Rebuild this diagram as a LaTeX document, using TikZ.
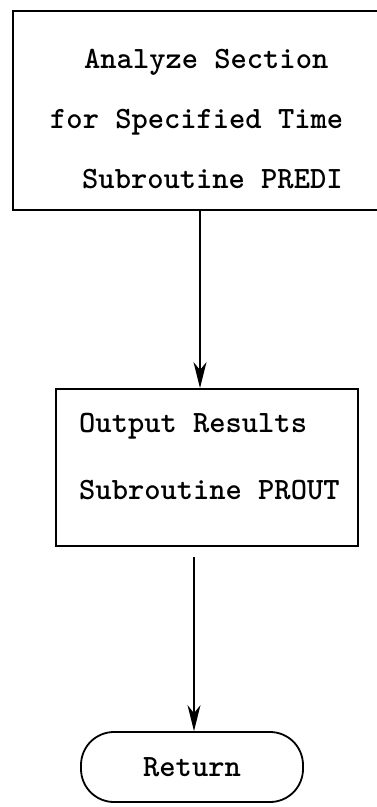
\documentclass[tikz,border=0pt]{standalone}
\usetikzlibrary{arrows.meta,calc}
\begin{document}
\begin{tikzpicture}[x=1pt,y=-1pt,
  box/.style={draw,line width=1.8pt,rectangle,inner sep=0pt},
  term/.style={draw,line width=1.8pt,rectangle,rounded corners=33pt,inner sep=0pt,
    minimum width=222pt,minimum height=70pt,font=\ttlabel},
  txt/.style={inner sep=0pt,anchor=base west,font=\ttlabel},
  flow/.style={line width=1.4pt,-{Stealth[length=26pt,width=13pt,inset=8pt]}}]
\providecommand\ttlabel{\fontsize{31}{37}\selectfont\ttfamily\bfseries}
% page area; the first box runs off its right edge
\useasboundingbox (0,0) rectangle (377,807);
\clip (0,0) rectangle (377,807);
\fill[white] (0,0) rectangle (377,807);

% analysis step
\node[box,anchor=north west,minimum width=383pt,minimum height=199pt] (predi) at (12,10) {};
\node[txt] (p1) at (84,68) {Analyze Section};
\node[txt] (p2) at (50,128) {for Specified Time};
\node[txt] (p3) at (82,188) {Subroutine PREDI};

% output step
\node[box,anchor=north west,minimum width=302pt,minimum height=157pt] (prout) at (55,388) {};
\node[txt] (q1) at (79,432) {Output Results};
\node[txt] (q2) at (79,499) {Subroutine PROUT};

% terminator
\node[term] (ret) at (192,767) {Return};

% connectors
\coordinate (c1) at (200,0);
\coordinate (c2) at (194,0);
\draw[flow] (predi.south -| c1) -- (prout.north -| c1);
\draw[flow,shorten <=10pt] (prout.south -| c2) -- (ret.north -| c2);
\end{tikzpicture}
\end{document}
